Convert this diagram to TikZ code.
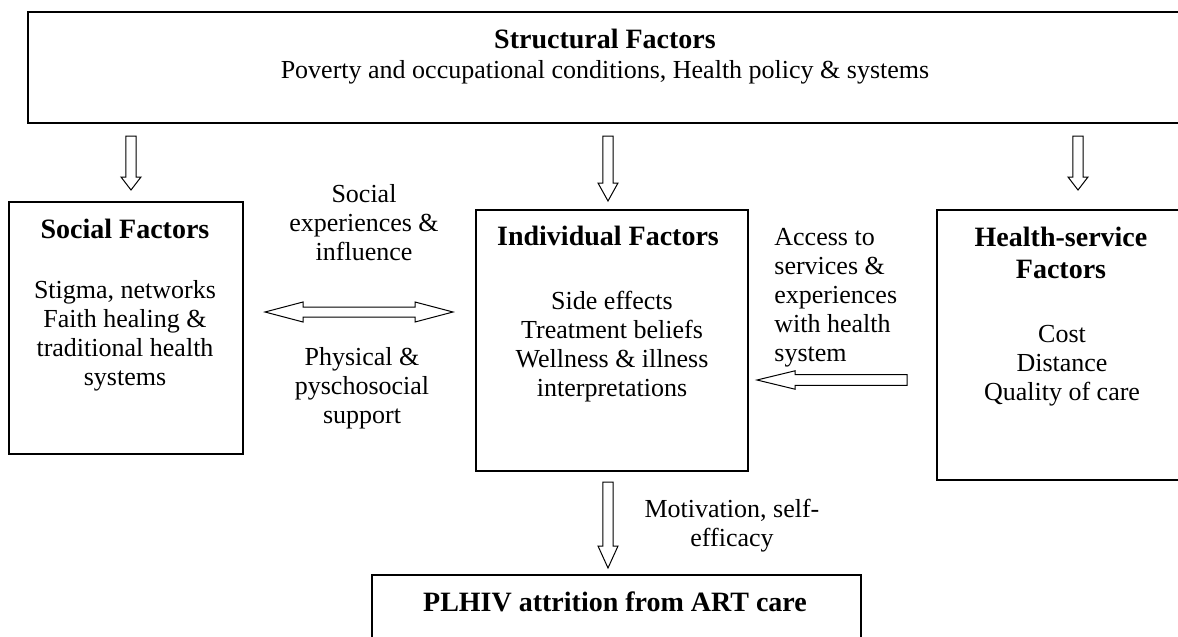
\documentclass[tikz,border=0pt]{standalone}
\usepackage{fontspec}
\setmainfont{Liberation Serif}
\usetikzlibrary{calc}

% hollow block arrows between two points (#3 = head length)
\newcommand{\hollowdown}[3]{%
  \draw[blockarrow] let \p1=(#1), \p2=(#2) in
    (\x1-2.6pt,\y1) -- (\x1+2.6pt,\y1) -- (\x1+2.6pt,\y2+#3) -- (\x1+5pt,\y2+#3)
    -- (\x1,\y2) -- (\x1-5pt,\y2+#3) -- (\x1-2.6pt,\y2+#3) -- cycle;}
\newcommand{\hollowleft}[3]{%
  \draw[blockarrow] let \p1=(#1), \p2=(#2) in
    (\x1,\y1-2.7pt) -- (\x1,\y1+2.7pt) -- (\x2+#3,\y1+2.7pt) -- (\x2+#3,\y1+4.6pt)
    -- (\x2,\y1) -- (\x2+#3,\y1-4.6pt) -- (\x2+#3,\y1-2.7pt) -- cycle;}
\newcommand{\hollowboth}[3]{%
  \draw[blockarrow] let \p1=(#1), \p2=(#2) in
    (\x1,\y1) -- (\x1+#3,\y1+5pt) -- (\x1+#3,\y1+2.5pt) -- (\x2-#3,\y1+2.5pt)
    -- (\x2-#3,\y1+5pt) -- (\x2,\y1) -- (\x2-#3,\y1-5pt) -- (\x2-#3,\y1-2.5pt)
    -- (\x1+#3,\y1-2.5pt) -- (\x1+#3,\y1-5pt) -- cycle;}

\begin{document}
\begin{tikzpicture}[
  x=0.5pt, y=-0.5pt,
  factorbox/.style={draw, line width=1pt, inner sep=0pt, anchor=north west},
  titletext/.style={font=\fontsize{14}{16}\selectfont\bfseries, align=center, inner sep=0pt, anchor=north},
  bodytext/.style={font=\fontsize{13}{14.5}\selectfont, align=center, inner sep=0pt, anchor=north},
  blockarrow/.style={draw, line width=0.5pt, fill=white, line join=miter}
]
\useasboundingbox (0,0) rectangle (1178,637);

% Boxes
\node[factorbox, minimum width=584pt, minimum height=55.5pt] (structural) at (27,11) {};
\node[factorbox, minimum width=117pt, minimum height=126pt] (social) at (8,201) {};
\node[factorbox, minimum width=136pt, minimum height=130.5pt] (individual) at (475,209) {};
\node[factorbox, minimum width=126pt, minimum height=135pt] (health) at (936,209) {};
\node[factorbox, minimum width=244.5pt, minimum height=45pt] (attrition) at (371,574) {};

% Box texts
\node[titletext] (structural_title) at (605,25.6) {\strut Structural Factors};
\node[bodytext] (structural_body) at (605,57.7) {\strut Poverty and occupational conditions, Health policy \& systems};

\node[titletext] (social_title) at (125,215.6) {\strut Social Factors};
\node[bodytext] (social_body) at (125,277.7) {\strut Stigma, networks\\ Faith healing \&\\ traditional health\\ systems};

\node[titletext] (individual_title) at (608,222.6) {\strut Individual Factors};
\node[bodytext] (individual_body) at (612,288.7) {\strut Side effects\\ Treatment beliefs\\ Wellness \& illness\\ interpretations};

\node[titletext] (health_title) at (1061,223.6) {\strut Health-service\\ Factors};
\node[bodytext] (health_body) at (1062,321.7) {\strut Cost\\ Distance\\ Quality of care};

\node[titletext] (attrition_title) at (615,588.6) {\strut PLHIV attrition from ART care};

% Connector labels
\node[bodytext] (social_influence) at (364,181.7) {\strut Social\\ experiences \&\\ influence};
\node[bodytext] (social_support) at (362,344.7) {\strut Physical \&\\ pyschosocial\\ support};
\node[bodytext, anchor=north west, align=left] (access_label) at (774,224.7) {\strut Access to\\ services \&\\ experiences\\ with health\\ system};
\node[bodytext] (motivation_label) at (732,496.7) {\strut Motivation, self-\\ efficacy};

% Structural influences
\hollowdown{$(structural.south -| social.north)+(5,12)$}{$(social.north)+(5,-11)$}{6.5pt}
\hollowdown{$(structural.south -| individual.north)+(-4,12)$}{$(individual.north)+(-4,-8)$}{9pt}
\hollowdown{$(structural.south -| health.north)+(15,12)$}{$(health.north)+(15,-19)$}{6.5pt}

% Between factors
\hollowboth{$(social.east)+(21,-16)$}{$(individual.west |- social.east)+(-22,-16)$}{19pt}
\hollowleft{$(health.west)+(-29,35)$}{$(individual.east |- health.west)+(8,35)$}{19pt}

% Towards attrition
\hollowdown{$(individual.south)+(-4,10)$}{$(attrition.north -| individual.south)+(-4,-6)$}{11pt}

\end{tikzpicture}
\end{document}
